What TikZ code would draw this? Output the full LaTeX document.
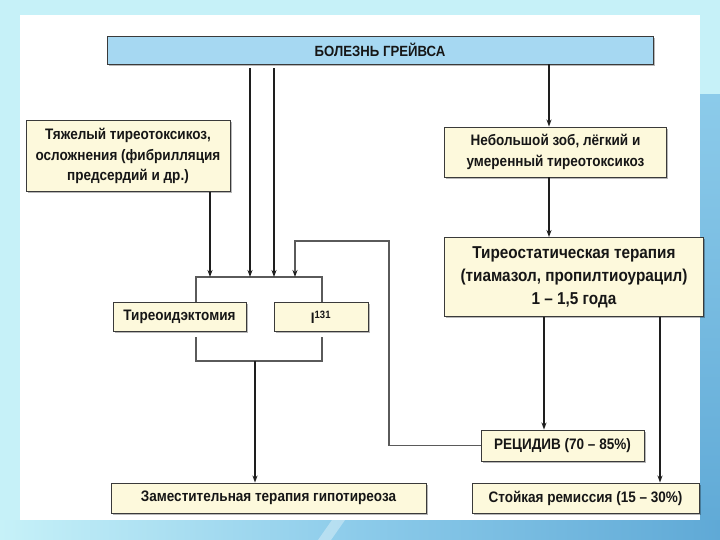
\documentclass[tikz,border=0pt]{standalone}
\usepackage{fontspec}
\setmainfont{Liberation Sans}[FakeStretch=0.89]
\usetikzlibrary{shadows,arrows.meta}
\definecolor{bgcyan}{HTML}{C6F1F8}
\definecolor{stripA}{HTML}{8CCBEA}
\definecolor{stripB}{HTML}{5FA9D6}
\definecolor{cream}{HTML}{FDF9DC}
\definecolor{topblue}{HTML}{A6D8F2}
\definecolor{boxline}{HTML}{3A3A3A}
\definecolor{lineC}{HTML}{1E1E1E}
\definecolor{grayline}{HTML}{5A5A5A}
\definecolor{txt}{HTML}{161616}
\begin{document}
\begin{tikzpicture}[x=1pt,y=-1pt,
  box/.style={draw=boxline, line width=0.9pt, fill=cream, inner sep=0pt, align=center,
    text=txt, font=\bfseries\fontsize{15.2}{20.5}\selectfont,
    drop shadow={shadow xshift=1.6pt, shadow yshift=-1.6pt, fill=black, opacity=0.28}},
  topbox/.style={box, fill=topblue, font=\bfseries\fontsize{14.8}{16}\selectfont},
  bigbox/.style={box, font=\bfseries\fontsize{17.2}{23}\selectfont},
  arr/.style={draw=lineC, line width=1.1pt, -{Stealth[length=7pt,width=5pt]}},
  thickarr/.style={arr, line width=2pt},
  brk/.style={draw=grayline, line width=1.2pt},
  fb/.style={draw=grayline, line width=1.5pt, -{Stealth[length=7pt,width=5pt,color=lineC]}}
]
% background
\useasboundingbox (0,0) rectangle (720,540);
\fill[bgcyan] (0,0) rectangle (720,540);
\shade[top color=stripA, bottom color=stripB] (700,95) rectangle (720,540);
\shade[left color=bgcyan, right color=stripB, middle color=stripA] (0,520) rectangle (720,540);
\fill[white, opacity=0.35] (318,540) -- (332,520) -- (345,520) -- (331,540) -- cycle;
\fill[white] (20,15) rectangle (700,520);

% nodes
\node[topbox, minimum width=546pt, minimum height=28pt] (top) at (380,50) {БОЛЕЗНЬ ГРЕЙВСА};
\node[box, minimum width=204pt, minimum height=71pt] (left) at (128,156)
  {Тяжелый тиреотоксикоз,\\осложнения (фибрилляция\\предсердий и др.)};
\node[box, minimum width=222pt, minimum height=50pt] (rbox) at (555.5,152)
  {Небольшой зоб, лёгкий и\\умеренный тиреотоксикоз};
\node[bigbox, minimum width=259pt, minimum height=79pt] (thy) at (574,277)
  {Тиреостатическая терапия\\(тиамазол, пропилтиоурацил)\\1 – 1,5 года};
\node[box, minimum width=133pt, minimum height=29pt] (tyr) at (179.5,317) {Тиреоидэктомия};
\node[box, minimum width=94pt, minimum height=29pt] (iod) at (321,317) {I\textsuperscript{131}};
\node[box, minimum width=163pt, minimum height=31pt] (rec) at (562.5,445.5) {РЕЦИДИВ (70 – 85\%)};
\node[box, minimum width=315pt, minimum height=30pt] (zam) at (268.5,498) {Заместительная терапия гипотиреоза};
\node[box, minimum width=227pt, minimum height=30pt] (st) at (585.5,498) {Стойкая ремиссия (15 – 30\%)};

% coordinates
\coordinate (p1) at (210,277);
\coordinate (p2) at (250,277);
\coordinate (p3) at (274,277);
\coordinate (p4) at (295,277);
\coordinate (bl) at (196,277);
\coordinate (br) at (322,277);
\coordinate (bl3) at (196,337);
\coordinate (br3) at (322,337);
\coordinate (bl2) at (196,361);
\coordinate (br2) at (322,361);
\coordinate (d1) at (255,361);
\coordinate (f1) at (389,241);
\coordinate (xR) at (549,0);
\coordinate (xT) at (544,0);
\coordinate (xS) at (660,0);

% brackets
\draw[brk] (bl |- tyr.north) -- (bl) -- (br) -- (br |- iod.north);
\draw[brk] (bl3) -- (bl2) -- (br2) -- (br3);

% connectors
\draw[arr] (left.south -| p1) -- (p1);
\draw[thickarr, shorten <=4pt] (top.south -| p2) -- (p2);
\draw[arr, shorten <=4pt] (top.south -| p3) -- (p3);
\draw[fb] (rec.west) -| (f1) -| (p4);
\draw[arr] (d1) -- (d1 |- zam.north);
\draw[arr] (top.south -| xR) -- (rbox.north -| xR);
\draw[arr] (rbox.south -| xR) -- (thy.north -| xR);
\draw[thickarr] (thy.south -| xT) -- (rec.north -| xT);
\draw[arr] (thy.south -| xS) -- (st.north -| xS);
\end{tikzpicture}
\end{document}
